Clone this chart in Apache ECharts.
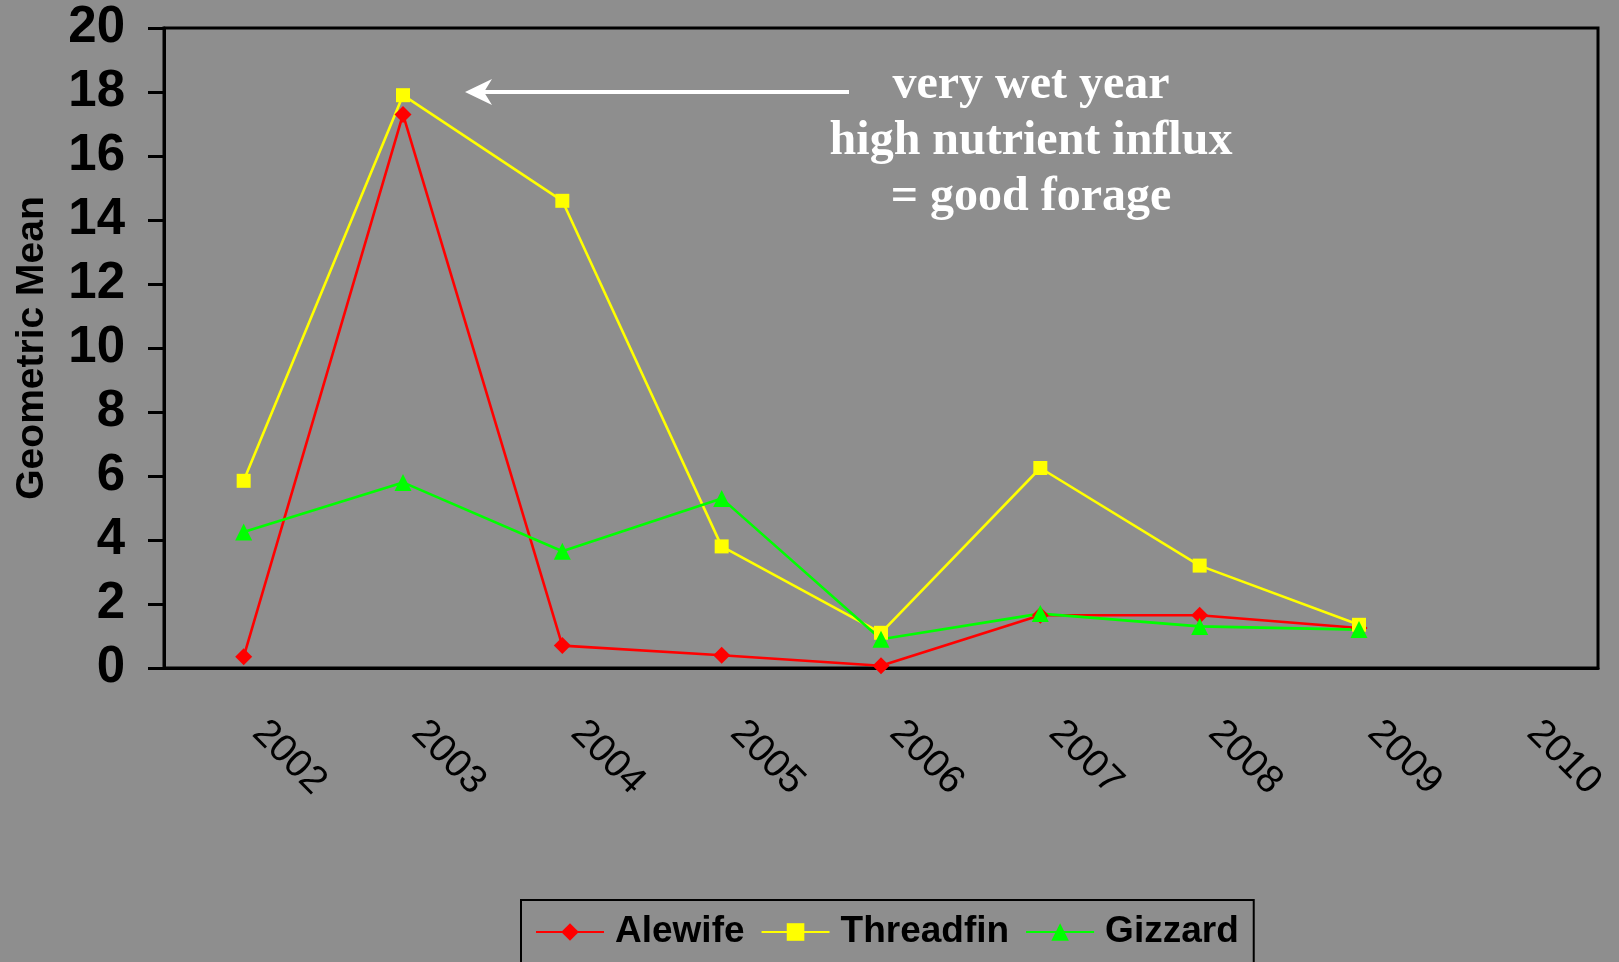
<!DOCTYPE html>
<html>
<head>
<meta charset="utf-8">
<title>Geometric Mean by Year</title>
<script src="https://cdn.jsdelivr.net/npm/echarts@6/dist/echarts.min.js"></script>
<style>
  html, body { margin: 0; padding: 0; background: #8e8e8e; }
  #chart { width: 1619px; height: 962px; }
</style>
</head>
<body>
<div id="chart"></div>
<script>
// Survey years along the bottom axis
const years = ['2002', '2003', '2004', '2005', '2006', '2007', '2008', '2009', '2010'];

// Geometric mean catch per species, one value per year (2010 not sampled)
const alewife   = [0.35, 17.3, 0.7, 0.4, 0.07, 1.65, 1.65, 1.25];
const threadfin = [5.85, 17.9, 14.6, 3.8, 1.1, 6.25, 3.2, 1.35];
const gizzard   = [4.25, 5.8, 3.65, 5.3, 0.9, 1.7, 1.3, 1.2];

// Value axis range and step
const yMin = 0, yMax = 20, yStep = 2;

const noteLines = ['very wet year', 'high nutrient influx', '= good forage'];

const chart = echarts.init(document.getElementById('chart'), null, { renderer: 'canvas' });

const sans = '"Liberation Sans", Arial, sans-serif';
const serif = '"Liberation Serif", "Times New Roman", serif';

function lineSeries(name, data, color, symbol, size) {
  return {
    name: name,
    type: 'line',
    data: data,
    symbol: symbol,
    symbolSize: size,
    showAllSymbol: true,
    lineStyle: { color: color, width: 2.6 },
    itemStyle: { color: color },
    emphasis: { disabled: true },
    animation: false
  };
}

chart.setOption({
  backgroundColor: '#8e8e8e',
  animation: false,
  grid: {
    left: 164, top: 28, right: 21, bottom: 294,
    outerBoundsMode: 'none',
    containLabel: false,
    show: true, borderColor: '#000', borderWidth: 3, backgroundColor: 'transparent'
  },
  xAxis: {
    type: 'category',
    data: years,
    boundaryGap: true,
    axisLine: { lineStyle: { color: '#000', width: 3 } },
    axisTick: { show: false },
    splitLine: { show: false },
    axisLabel: {
      rotate: -45,
      interval: 0,
      margin: 44,
      padding: [0, 0, 42, 21],
      color: '#000',
      fontFamily: sans,
      fontSize: 39
    }
  },
  yAxis: {
    type: 'value',
    min: yMin, max: yMax, interval: yStep,
    name: 'Geometric Mean',
    nameLocation: 'middle',
    nameGap: 112,
    nameRotate: 90,
    nameTextStyle: { color: '#000', fontFamily: sans, fontSize: 39, fontWeight: 'bold' },
    axisLine: { show: true, lineStyle: { color: '#000', width: 3 } },
    axisTick: { show: true, inside: false, length: 16, lineStyle: { color: '#000', width: 3 } },
    splitLine: { show: false },
    axisLabel: {
      margin: 39,
      color: '#000',
      fontFamily: sans,
      fontSize: 51,
      fontWeight: 'bold'
    }
  },
  legend: {
    left: 521, top: 900,
    orient: 'horizontal',
    itemWidth: 68, itemHeight: 22, itemGap: 16,
    padding: [12, 15, 40, 14],
    borderColor: '#000', borderWidth: 2,
    backgroundColor: 'transparent',
    selectedMode: false,
    textStyle: {
      color: '#000', fontFamily: sans, fontSize: 37, fontWeight: 'bold',
      lineHeight: 40, padding: [0, 0, 0, 6]
    },
    data: ['Alewife', 'Threadfin', 'Gizzard']
  },
  graphic: [
    {
      type: 'line',
      shape: { x1: 849, y1: 92, x2: 484, y2: 92 },
      style: { stroke: '#fff', lineWidth: 4 },
      silent: true
    },
    {
      type: 'polygon',
      shape: { points: [[465, 92], [492, 79], [484, 92], [492, 105]] },
      style: { fill: '#fff' },
      silent: true
    },
    {
      type: 'text',
      x: 1031,
      y: 142,
      style: {
        text: noteLines.join('\n'),
        align: 'center',
        verticalAlign: 'middle',
        fill: '#fff',
        font: 'bold 48px ' + serif,
        lineHeight: 56
      },
      silent: true
    }
  ],
  series: [
    lineSeries('Alewife', alewife, '#ff0000', 'diamond', 17),
    lineSeries('Threadfin', threadfin, '#ffff00', 'rect', 14),
    lineSeries('Gizzard', gizzard, '#00ff00', 'triangle', 17)
  ]
});
</script>
</body>
</html>
